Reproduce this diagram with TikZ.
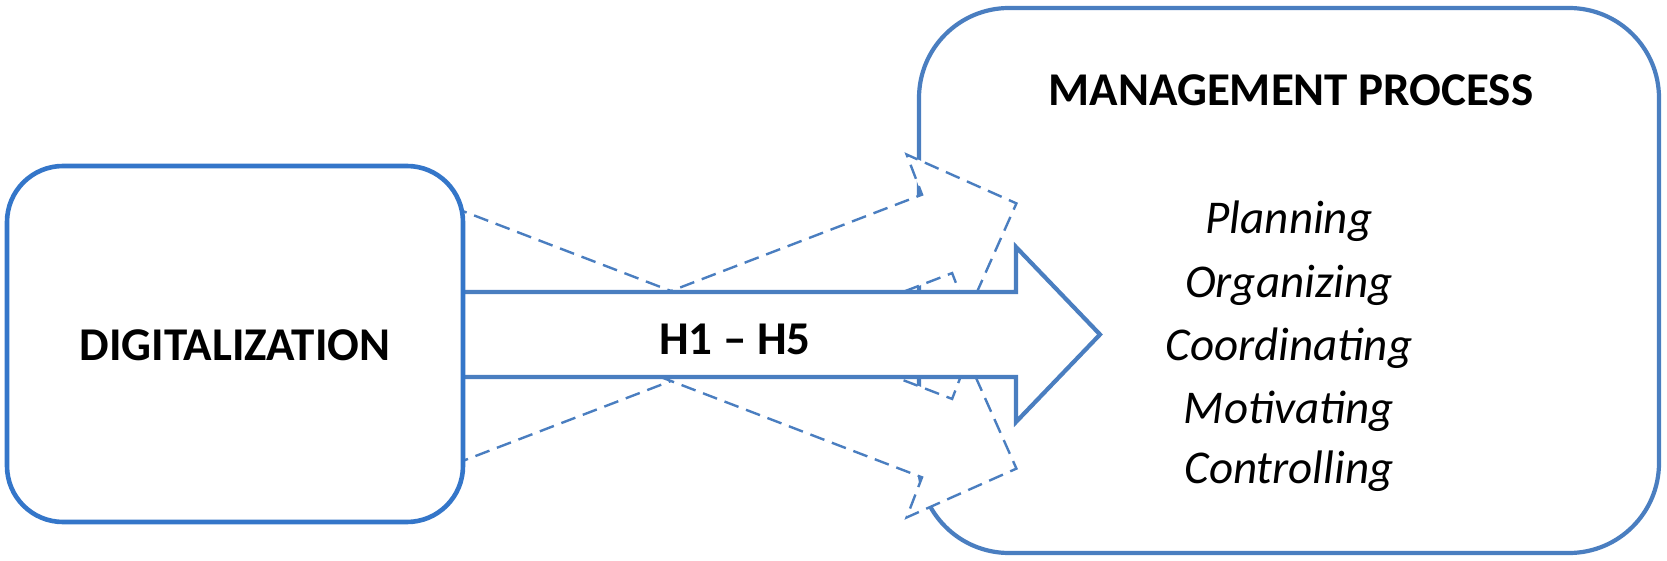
\documentclass[tikz,border=0pt]{standalone}
\usepackage{fontspec}
\setmainfont{Carlito}
\definecolor{boxblue}{RGB}{52,118,201}
\definecolor{arrblue}{RGB}{74,126,192}
\begin{document}
\begin{tikzpicture}[x=0.5pt,y=-0.5pt,
  leftbox/.style={draw=boxblue, line width=2.3pt, fill=white, rounded corners=28pt,
    minimum width=228pt, minimum height=178pt, inner sep=0pt},
  rightbox/.style={draw=arrblue, line width=2.1pt, fill=white, rounded corners=45pt,
    minimum width=370pt, minimum height=272.5pt, inner sep=0pt},
  mainarrow/.style={draw=arrblue, line width=2.1pt, fill=white, line join=miter},
  dasharrow/.style={draw=arrblue, line width=1.2pt, fill=white, line join=miter,
    dash pattern=on 7.5pt off 4pt},
  bigtxt/.style={font=\fontsize{23.5}{28}\selectfont\bfseries, inner sep=0pt, anchor=base},
  itemtxt/.style={font=\fontsize{23.5}{28}\selectfont\itshape, inner sep=0pt, anchor=base}]
\useasboundingbox (0,0) rectangle (1667,561);
% right box
\node[rightbox] (mgmt) at (1289,280.5) {};
% dashed arrows
\begin{scope}[shift={(671,336)}, rotate=21]
  \path[dasharrow] (-250,-42) -- (285,-42) -- (285,-85) -- (370,0) -- (285,85) -- (285,42) -- (-250,42) -- cycle;
\end{scope}
\begin{scope}[shift={(671,336)}, rotate=-21]
  \path[dasharrow] (-250,-42) -- (285,-42) -- (285,-85) -- (370,0) -- (285,85) -- (285,42) -- (-250,42) -- cycle;
\end{scope}
% main arrow
\path[mainarrow] (440,292) -- (1016,292) -- (1016,247) -- (1100,334.5) -- (1016,422) -- (1016,377) -- (440,377) -- cycle;
% left box
\node[leftbox] (dig) at (235,344) {};
% texts
\node[bigtxt] (digtxt) at (235,361) {DIGITALIZATION};
\node[bigtxt] (htxt) at (735,355) {H1 – H5};
\node[bigtxt] (mptxt) at (1291,106) {MANAGEMENT PROCESS};
\node[itemtxt] (i1) at (1289,234) {Planning};
\node[itemtxt] (i2) at (1289,298) {Organizing};
\node[itemtxt] (i3) at (1289,361) {Coordinating};
\node[itemtxt] (i4) at (1289,423) {Motivating};
\node[itemtxt] (i5) at (1289,484) {Controlling};
\end{tikzpicture}
\end{document}
